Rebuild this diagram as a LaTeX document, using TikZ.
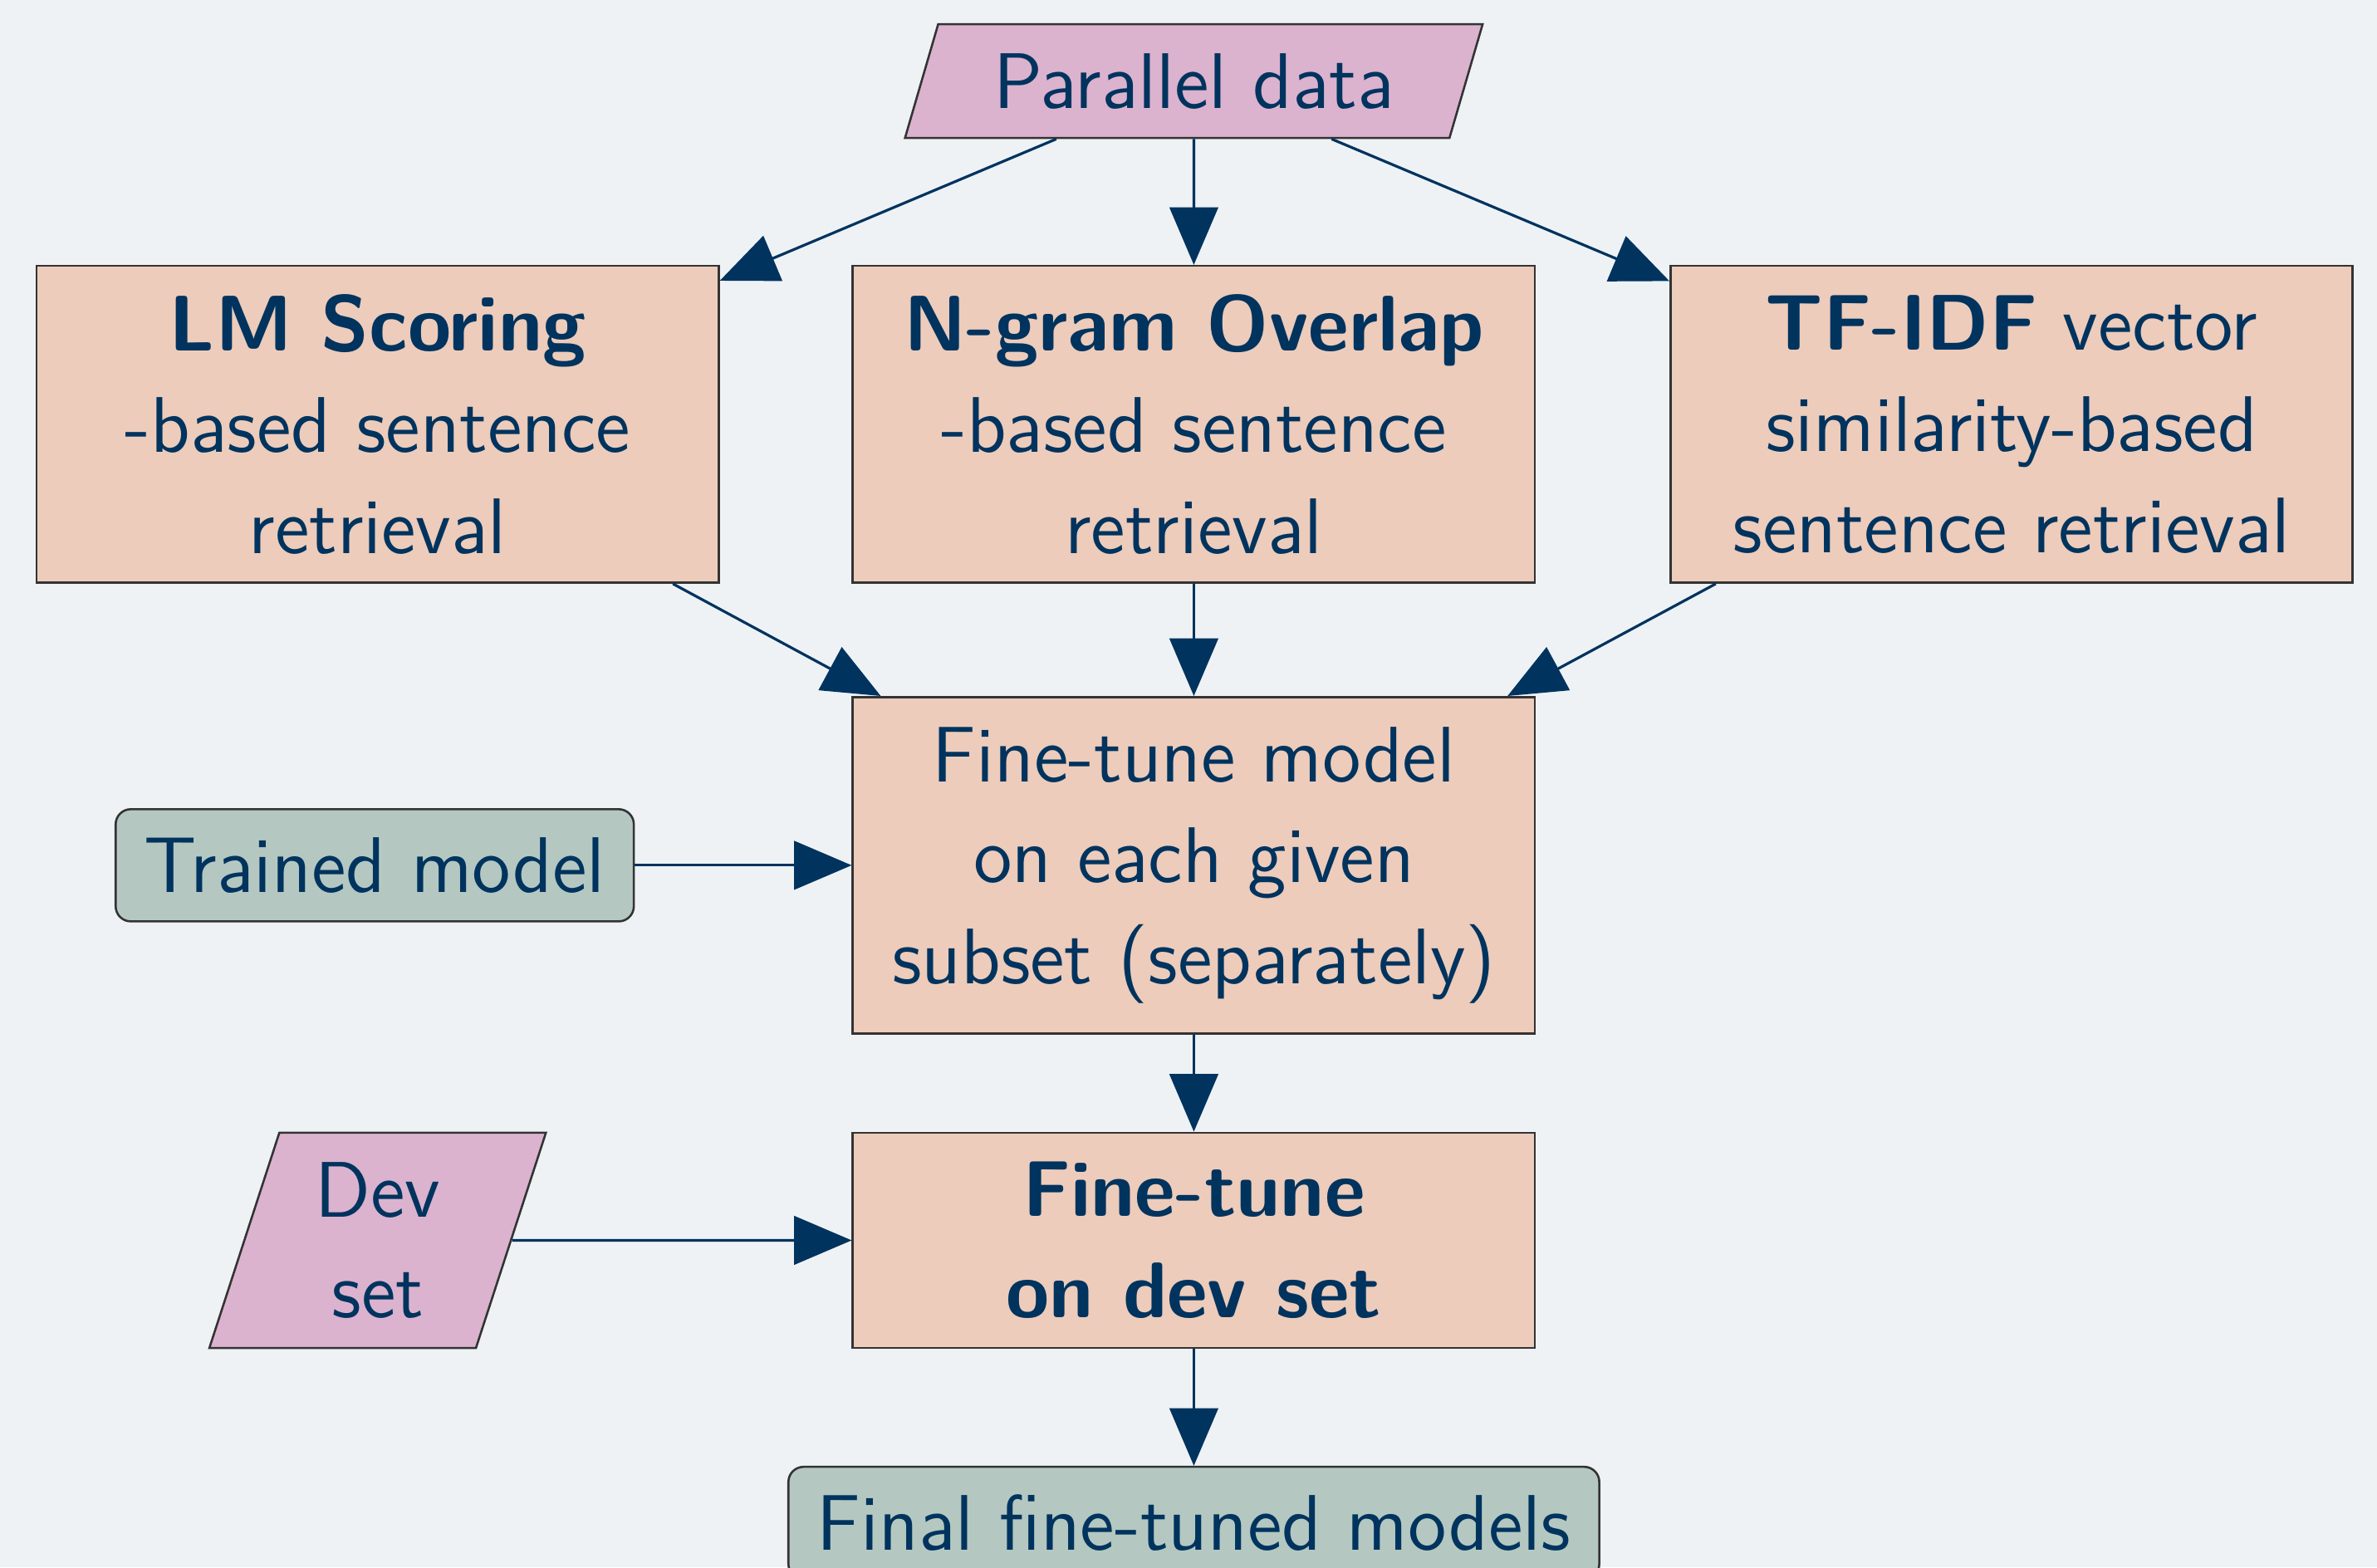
\documentclass[tikz,border=0pt]{standalone}
\usetikzlibrary{shapes.geometric,positioning,arrows.meta}
\definecolor{bgcol}{RGB}{238,242,245}
\definecolor{navy}{RGB}{0,51,94}
\definecolor{boxcol}{RGB}{237,204,187}
\definecolor{datacol}{RGB}{219,179,206}
\definecolor{modelcol}{RGB}{180,200,193}

\begin{document}
\begin{tikzpicture}[font=\sffamily\fontsize{14.8}{19}\selectfont, text=navy]
      \tikzstyle{proc}=[draw=black!80, fill=boxcol, rectangle, minimum width=4.5cm, align=center];
      \tikzstyle{data}=[draw=black!80, fill=datacol, trapezium, trapezium left angle=70, trapezium right angle=110, trapezium stretches body, align=center];
      \tikzstyle{model}=[draw=black!80, fill=modelcol, rounded corners=0.1cm, minimum height=0.74cm, inner xsep=0.19cm];
      \tikzstyle{flow}=[draw=navy, line width=0.5pt, -{Stealth[length=0.38cm, width=0.32cm, inset=0pt]}];

      \fill[bgcol] (0,0) rectangle (15.68,-10.34);
      \useasboundingbox (0,0) rectangle (15.68,-10.34);

      \node (pd) at (7.875,-0.535)[data, minimum height=0.75cm, minimum width=3.81cm]{Parallel data};
      \node (ngram) [below=0.83cm of pd, proc, minimum height=2.09cm]{\textbf{N-gram Overlap}\\-based sentence\\retrieval};
      \node (lm) [left=0.87cm of ngram, proc, minimum height=2.09cm]{\textbf{LM Scoring}\\-based sentence\\retrieval};
      \node (tfidf) [right=0.88cm of ngram, proc, minimum height=2.09cm]{\textbf{TF-IDF} vector\\similarity-based\\sentence retrieval};
      \node (ft) [below=0.74cm of ngram, proc, minimum height=2.22cm]{Fine-tune model\\on each given\\subset (separately)};
      \node (trained) [left=1.43cm of ft, model]{Trained model};
      \node (ftdev) [below=0.64cm of ft, proc, minimum height=1.42cm]{\textbf{Fine-tune}\\\textbf{on dev set}};
      \node (dev) at (lm |- ftdev)[data, minimum height=1.42cm, minimum width=2.22cm]{Dev\\set};
      \node (final) [below=0.77cm of ftdev, model]{Final fine-tuned models};

      \draw [flow] (pd) -- (lm);
      \draw [flow] (pd) -- (ngram);
      \draw [flow] (pd) -- (tfidf);

      \draw [flow] (lm) -- (ft);
      \draw [flow] (ngram) -- (ft);
      \draw [flow] (tfidf) -- (ft);

      \draw [flow] (trained) -- (ft);
      \draw [flow] (ft) -- (ftdev);
      \draw [flow] (dev) -- (ftdev);
      \draw [flow] (ftdev) -- (final);

    \end{tikzpicture}
\end{document}
